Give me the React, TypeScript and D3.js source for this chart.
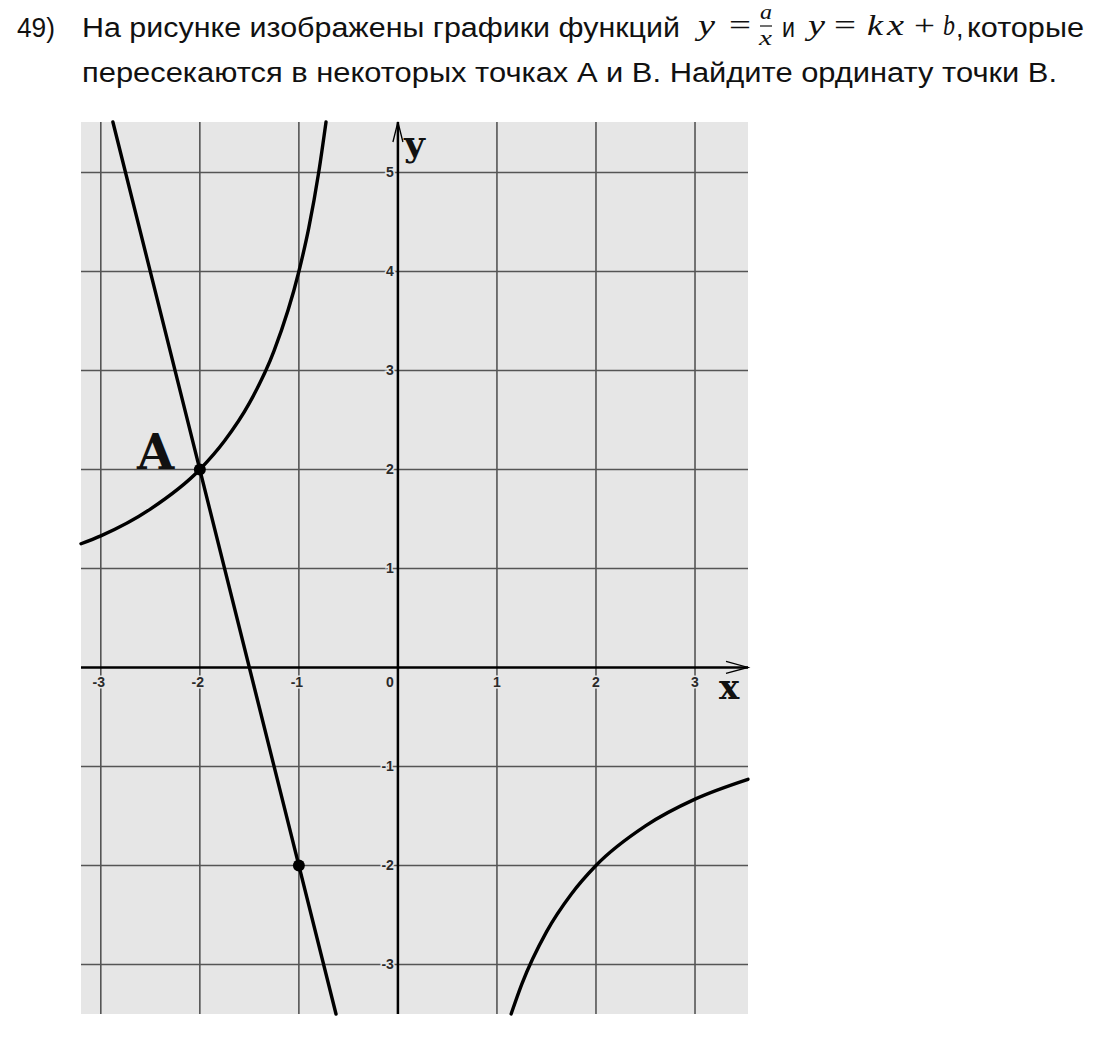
import { useEffect, useRef } from 'react'
import * as d3 from 'd3'

// grid / axis ticks
const xTicks = [-3, -2, -1, 1, 2, 3]
const yTicks = [-3, -2, -1, 1, 2, 3, 4, 5]

// points: y = a/x (a = -4)
const hyperLeft: [number, number][] = [
  [-3.2, 1.25], [-3, 1.33], [-2.5, 1.6], [-2, 2], [-1.75, 2.29], [-1.5, 2.67],
  [-1.25, 3.2], [-1, 4], [-0.9, 4.44], [-0.8, 5], [-0.726, 5.51],
]
const hyperRight: [number, number][] = [
  [1.143, -3.5], [1.25, -3.2], [1.5, -2.67], [1.75, -2.29], [2, -2],
  [2.5, -1.6], [3, -1.33], [3.535, -1.13],
]
// y = kx + b (k = -4, b = -6), ends at the plot frame
const line: [number, number][] = [[-2.878, 5.51], [-0.625, -3.5]]
const dots: [number, number][] = [[-2, 2], [-1, -2]]

export default function App() {
  const ref = useRef<SVGSVGElement>(null)

  useEffect(() => {
    const svg = d3.select(ref.current)
    svg.selectAll('*').remove()

    const left = 81, right = 748, top = 122, bottom = 1014
    const x = d3.scaleLinear().domain([-3.2, 3.535]).range([left, right])
    const y = d3.scaleLinear().domain([-3.5, 5.51]).range([bottom, top])
    const bg = '#e6e6e6'

    // title, Arial-like text stretched to the widths in the picture
    const t = svg.append('g')
      .style('font-family', '"Liberation Sans", Arial, sans-serif')
      .style('font-size', '27px')
      .attr('fill', '#111')
    const word = (tx: string, x0: number, w: number, by: number) =>
      t.append('text').attr('x', x0).attr('y', by)
        .attr('textLength', w).attr('lengthAdjust', 'spacingAndGlyphs').text(tx)
    word('49)', 17, 38, 37)
    word('На рисунке изображены графики функций', 82, 598, 37)
    word('и', 782, 13, 37)
    t.append('text').attr('x', 956).attr('y', 37).text(',')
    word('которые', 967, 117, 37)
    word('пересекаются в некоторых точках А и В. Найдите ординату точки В.', 82, 975, 82)

    // math tokens
    const m = svg.append('g')
      .style('font-family', '"Liberation Serif", "Times New Roman", serif')
      .attr('fill', '#111')
    const tok = (tx: string, x0: number, w: number, by: number, it = true, fs = 29) =>
      m.append('text').attr('x', x0).attr('y', by)
        .style('font-style', it ? 'italic' : 'normal').style('font-size', `${fs}px`)
        .attr('textLength', w).attr('lengthAdjust', 'spacingAndGlyphs').text(tx)
    tok('y', 698, 17, 35)
    tok('=', 729, 22, 35, false)
    tok('a', 760, 12, 19, true, 21)
    m.append('line').attr('x1', 760).attr('x2', 772).attr('y1', 26).attr('y2', 26)
      .attr('stroke', '#111').attr('stroke-width', 1.2)
    tok('x', 759, 13, 45, true, 21)
    tok('y', 808, 17, 35)
    tok('=', 834, 22, 35, false)
    tok('k', 867, 16, 35)
    tok('x', 887, 17, 35)
    tok('+', 914, 21, 35, false)
    tok('b', 943, 12, 35)

    // plot background
    svg.append('rect').attr('x', left).attr('y', top)
      .attr('width', right - left).attr('height', bottom - top).attr('fill', bg)

    // grid
    const grid = svg.append('g').attr('stroke', '#555').attr('stroke-width', 1.6)
    grid.selectAll('.gx').data(xTicks).join('line')
      .attr('x1', d => x(d)).attr('x2', d => x(d)).attr('y1', top).attr('y2', bottom)
    grid.selectAll('.gy').data(yTicks).join('line')
      .attr('y1', d => y(d)).attr('y2', d => y(d)).attr('x1', left).attr('x2', right)

    // tick labels
    const lab = svg.append('g')
      .style('font-family', '"Liberation Sans", Arial, sans-serif')
      .style('font-size', '14px')
      .style('font-weight', 'bold')
      .attr('fill', '#2a2a2a')
      .attr('stroke', bg).attr('stroke-width', 3).style('paint-order', 'stroke')
    lab.selectAll('.lx').data(xTicks).join('text')
      .attr('x', d => x(d) + (d < 0 ? -2 : 0)).attr('y', y(0) + 20)
      .attr('text-anchor', 'middle').text(d => d)
    lab.append('text').attr('x', x(0) - 4).attr('y', y(0) + 20)
      .attr('text-anchor', 'end').text(0)
    lab.selectAll('.ly').data(yTicks).join('text')
      .attr('x', x(0) - 4).attr('y', d => y(d) + 5)
      .attr('text-anchor', 'end').text(d => d)

    // axes with arrows
    const ax = svg.append('g').attr('stroke', '#000').attr('fill', 'none')
    ax.append('line').attr('x1', left).attr('x2', right).attr('y1', y(0)).attr('y2', y(0))
      .attr('stroke-width', 2.5)
    ax.append('line').attr('x1', x(0)).attr('x2', x(0)).attr('y1', top).attr('y2', bottom)
      .attr('stroke-width', 2.5)
    ax.append('path').attr('stroke-width', 1.3)
      .attr('d', `M${right - 22},${y(0) - 6} L${right},${y(0)} L${right - 22},${y(0) + 6}`)
    ax.append('path').attr('stroke-width', 1.3)
      .attr('d', `M${x(0) - 5},${top + 20} L${x(0)},${top} L${x(0) + 5},${top + 20}`)

    // curves
    const gen = d3.line<[number, number]>().x(d => x(d[0])).y(d => y(d[1]))
      .curve(d3.curveMonotoneX)
    const cg = svg.append('g').attr('fill', 'none').attr('stroke', '#000')
      .attr('stroke-width', 3.4).attr('stroke-linecap', 'round')
    ;[hyperLeft, hyperRight].forEach(s => cg.append('path').attr('d', gen(s)))
    cg.append('path').attr('d', d3.line<[number, number]>().x(d => x(d[0])).y(d => y(d[1]))(line))

    svg.selectAll('.dot').data(dots).join('circle')
      .attr('cx', d => x(d[0])).attr('cy', d => y(d[1])).attr('r', 6).attr('fill', '#000')

    // axis names and point label
    const serif = svg.append('g')
      .style('font-family', '"DejaVu Serif", serif')
      .style('font-weight', 'bold').attr('fill', '#111')
    serif.append('text').attr('x', 404).attr('y', 156).style('font-size', '36px').text('y')
    serif.append('text').attr('x', 719).attr('y', 699).style('font-size', '34px').text('x')
    serif.append('text').attr('x', 137).attr('y', 469).style('font-size', '48px').text('A')
  }, [])

  return (
    <div style={{ position: 'absolute', left: 0, top: 0, background: '#fff' }}>
      <svg ref={ref} width={1102} height={1040} style={{ display: 'block' }} />
    </div>
  )
}
